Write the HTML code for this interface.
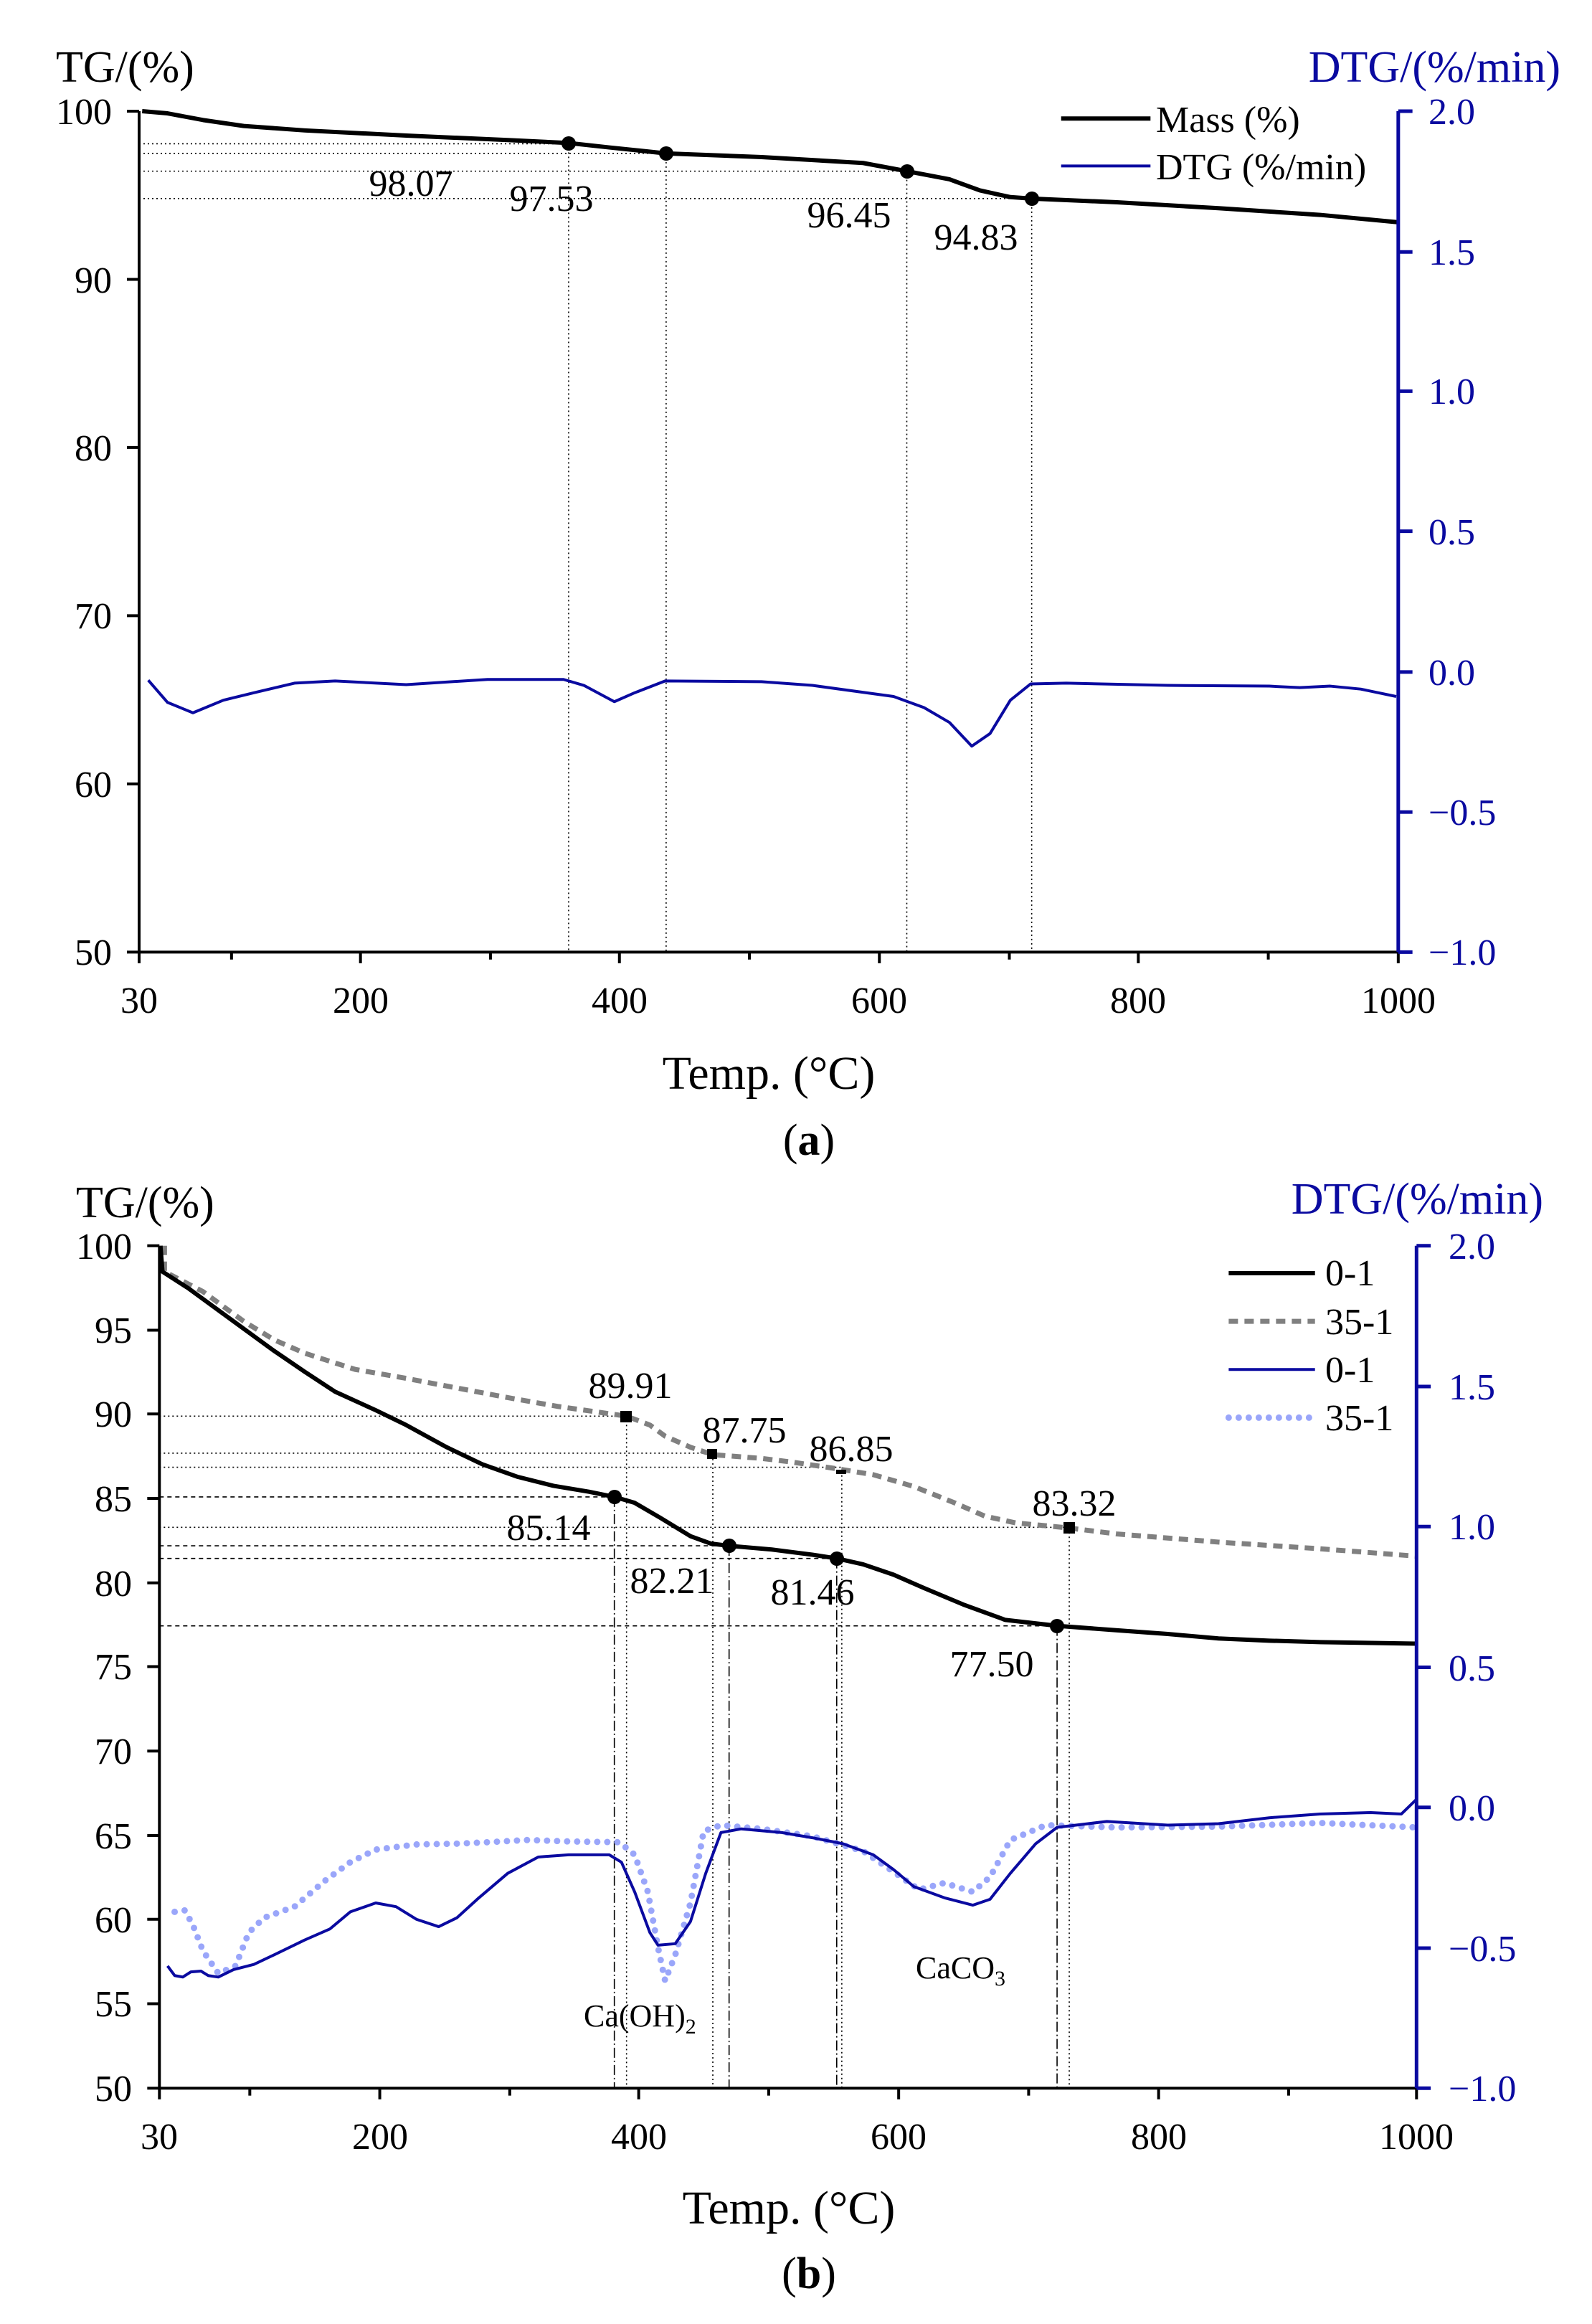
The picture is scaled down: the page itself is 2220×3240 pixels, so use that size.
<!DOCTYPE html>
<html><head><meta charset="utf-8"><style>
html,body{margin:0;padding:0;background:#fff}
svg{display:block}
text{font-family:"Liberation Serif",serif}
</style></head><body>
<svg width="2220" height="3240" viewBox="0 0 2220 3240" xmlns="http://www.w3.org/2000/svg">
<rect width="2220" height="3240" fill="#fff"/>

<!-- ========== Panel A ========== -->
<g transform="scale(1.416,1.033)" fill="none">
  <g stroke="#000" stroke-width="1.6" stroke-dasharray="2 4">
    <path d="M137 194H560M137 207H656M137 231H893M137 268H1016" vector-effect="non-scaling-stroke"/>
    <path d="M560 194V1285M656 207V1285M893 231V1285M1016 268V1285" vector-effect="non-scaling-stroke"/>
  </g>
  <polyline stroke="#0a0aa0" stroke-width="4" vector-effect="non-scaling-stroke" stroke-linejoin="round"
   points="146,918 165,948 190,962 220,945 250,935 290,922 330,919 400,924 480,917 555,917 575,925 605,947 625,935 655,919 750,920 800,925 880,940 910,955 935,975 957,1007 975,990 995,945 1015,923 1050,922 1150,925 1250,926 1280,928 1310,926 1340,930 1375,940"/>
  <polyline stroke="#000" stroke-width="6" vector-effect="non-scaling-stroke" stroke-linejoin="round"
   points="140,150 165,153 200,162 240,170 300,176 400,183 500,189 560,193 600,199 656,207 750,212 850,220 893,231 935,242 965,257 995,266 1016,268 1100,273 1200,281 1300,290 1377,300"/>
  <path d="M137 150V1285H1377" stroke="#000" stroke-width="4" vector-effect="non-scaling-stroke"/>
  <path d="M137 150H125M137 377H125M137 604H125M137 831H125M137 1058H125M137 1285H125" stroke="#000" stroke-width="4" vector-effect="non-scaling-stroke"/>
  <path d="M137 1285V1300M355 1285V1300M610 1285V1300M866 1285V1300M1121 1285V1300M1377 1285V1300M228 1285V1295M483 1285V1295M738 1285V1295M994 1285V1295M1249 1285V1295" stroke="#000" stroke-width="4" vector-effect="non-scaling-stroke"/>
  <path d="M1377 150V1285" stroke="#0a0aa0" stroke-width="5" vector-effect="non-scaling-stroke"/>
  <path d="M1377 150H1391M1377 340H1391M1377 528H1391M1377 717H1391M1377 907H1391M1377 1096H1391M1377 1285H1391" stroke="#0a0aa0" stroke-width="5" vector-effect="non-scaling-stroke"/>
  <path d="M1045 160H1133" stroke="#000" stroke-width="6" vector-effect="non-scaling-stroke"/>
  <path d="M1045 224H1133" stroke="#0a0aa0" stroke-width="4" vector-effect="non-scaling-stroke"/>
</g>
<g fill="#000">
  <ellipse cx="793" cy="200" rx="10" ry="10"/>
  <ellipse cx="929" cy="214" rx="10" ry="10"/>
  <ellipse cx="1265" cy="239" rx="10" ry="10"/>
  <ellipse cx="1439" cy="277" rx="10" ry="10"/>
</g>
<g font-size="52" text-anchor="end" fill="#000">
  <text x="156" y="173">100</text><text x="156" y="408">90</text><text x="156" y="642">80</text>
  <text x="156" y="876">70</text><text x="156" y="1111">60</text><text x="156" y="1345">50</text>
</g>
<g font-size="52" fill="#0a0aa0">
  <text x="1992" y="173">2.0</text><text x="1992" y="369">1.5</text><text x="1992" y="563">1.0</text>
  <text x="1992" y="759">0.5</text><text x="1992" y="955">0.0</text><text x="1992" y="1150">−0.5</text>
  <text x="1992" y="1345">−1.0</text>
</g>
<g font-size="52" text-anchor="middle" fill="#000">
  <text x="194" y="1412">30</text><text x="503" y="1412">200</text><text x="864" y="1412">400</text>
  <text x="1226" y="1412">600</text><text x="1587" y="1412">800</text><text x="1950" y="1412">1000</text>
  <text x="573" y="273">98.07</text><text x="769" y="294">97.53</text>
  <text x="1184" y="317">96.45</text><text x="1361" y="348">94.83</text>
</g>
<text x="78" y="114" font-size="62">TG/(%)</text>
<text x="2176" y="114" font-size="62" text-anchor="end" fill="#0a0aa0">DTG/(%/min)</text>
<text x="1612" y="184" font-size="52">Mass (%)</text>
<text x="1612" y="250" font-size="52">DTG (%/min)</text>
<text x="1072" y="1518" font-size="66" text-anchor="middle">Temp. (°C)</text>
<text x="1128" y="1610" font-size="62" text-anchor="middle">(<tspan font-weight="bold">a</tspan>)</text>

<!-- ========== Panel B ========== -->
<g transform="translate(0,1620) scale(1.416,1.033)" fill="none">
  <g stroke="#000" stroke-width="1.6">
    <path d="M157 343H617M157 393H702M157 412H829M157 493H1053" stroke-dasharray="2 4" vector-effect="non-scaling-stroke"/>
    <path d="M617 343V1250M702 395V1250M829 417V1250M1053 494V1250" stroke-dasharray="2 4" vector-effect="non-scaling-stroke"/>
    <path d="M157 452H605M157 518H718M157 535H824M157 626H1041" stroke-dasharray="6 5" vector-effect="non-scaling-stroke"/>
    <path d="M605 452V1250M718 518V1250M824 535V1250M1041 626V1250" stroke-dasharray="14 4 2 4" vector-effect="non-scaling-stroke"/>
  </g>
  <polyline stroke="#9aa6fa" stroke-width="9" stroke-dasharray="0 14" stroke-linecap="round" vector-effect="non-scaling-stroke" stroke-linejoin="round"
   points="172,1012 182,1010 190,1030 200,1065 215,1095 232,1085 245,1040 260,1020 290,1005 320,970 345,945 370,928 410,921 450,920 480,918 520,915 560,917 610,918 625,935 638,985 648,1060 655,1105 665,1070 680,1000 693,903 710,895 750,900 800,910 850,930 880,958 905,982 930,973 958,985 975,965 995,915 1030,895 1100,898 1200,897 1300,892 1395,898"/>
  <polyline stroke="#0a0aa0" stroke-width="4" vector-effect="non-scaling-stroke" stroke-linejoin="round"
   points="165,1085 172,1098 180,1100 188,1093 198,1092 205,1098 215,1100 230,1090 250,1083 270,1070 300,1050 325,1035 345,1012 370,1000 390,1005 410,1022 432,1032 450,1020 470,995 500,960 530,938 560,935 600,935 612,945 625,985 640,1040 648,1057 665,1055 680,1025 695,960 710,905 730,900 770,905 800,912 830,920 860,935 880,955 900,978 930,993 958,1003 975,995 995,960 1020,920 1041,898 1090,890 1150,895 1200,893 1250,885 1300,880 1350,878 1380,880 1395,860"/>
  <polyline stroke="#808080" stroke-width="7" stroke-dasharray="13 9" vector-effect="non-scaling-stroke" stroke-linejoin="round"
   points="162,113 162,148 200,175 240,215 270,240 300,258 350,280 400,292 450,305 500,318 550,330 617,343 640,355 655,370 680,385 702,395 750,400 780,405 829,415 860,422 900,438 940,460 970,478 1000,487 1053,494 1100,502 1200,513 1300,522 1395,532"/>
  <polyline stroke="#000" stroke-width="6" vector-effect="non-scaling-stroke" stroke-linejoin="round"
   points="158,113 160,148 185,170 210,195 240,225 270,255 300,283 330,310 370,335 400,355 440,385 475,408 510,425 545,437 580,445 605,452 625,460 650,480 680,505 700,515 718,518 760,523 800,530 824,535 850,543 880,557 910,575 950,598 990,618 1041,626 1100,632 1150,637 1200,643 1250,646 1300,648 1395,650"/>
  <path d="M157 113V1250H1395" stroke="#000" stroke-width="4" vector-effect="non-scaling-stroke"/>
  <path d="M157 113H145M157 227H145M157 340H145M157 454H145M157 568H145M157 681H145M157 795H145M157 909H145M157 1022H145M157 1136H145M157 1250H145" stroke="#000" stroke-width="4" vector-effect="non-scaling-stroke"/>
  <path d="M157 1250V1265M374 1250V1265M629 1250V1265M885 1250V1265M1141 1250V1265M1395 1250V1265M246 1250V1260M502 1250V1260M757 1250V1260M1013 1250V1260M1269 1250V1260" stroke="#000" stroke-width="4" vector-effect="non-scaling-stroke"/>
  <path d="M1395 113V1250" stroke="#0a0aa0" stroke-width="5" vector-effect="non-scaling-stroke"/>
  <path d="M1395 113H1409M1395 303H1409M1395 492H1409M1395 682H1409M1395 871H1409M1395 1061H1409M1395 1250H1409" stroke="#0a0aa0" stroke-width="5" vector-effect="non-scaling-stroke"/>
  <path d="M1210 150H1295" stroke="#000" stroke-width="6" vector-effect="non-scaling-stroke"/>
  <path d="M1210 215H1295" stroke="#808080" stroke-width="7" stroke-dasharray="13 9" vector-effect="non-scaling-stroke"/>
  <path d="M1210 280H1295" stroke="#0a0aa0" stroke-width="4" vector-effect="non-scaling-stroke"/>
  <path d="M1210 345H1295" stroke="#9aa6fa" stroke-width="9" stroke-dasharray="0 14" stroke-linecap="round" vector-effect="non-scaling-stroke"/>
</g>
<g fill="#000">
  <rect x="865" y="1967" width="16" height="16"/>
  <rect x="986" y="2020" width="14" height="14"/>
  <rect x="1166" y="2049" width="14" height="6"/>
  <rect x="1483" y="2122" width="16" height="16"/>
  <circle cx="857" cy="2087" r="10"/>
  <circle cx="1017" cy="2155" r="10"/>
  <circle cx="1167" cy="2173" r="10"/>
  <circle cx="1474" cy="2267" r="10"/>
</g>
<g font-size="52" text-anchor="end" fill="#000">
  <text x="184" y="1755">100</text><text x="184" y="1872">95</text><text x="184" y="1989">90</text>
  <text x="184" y="2107">85</text><text x="184" y="2225">80</text><text x="184" y="2341">75</text>
  <text x="184" y="2459">70</text><text x="184" y="2577">65</text><text x="184" y="2694">60</text>
  <text x="184" y="2811">55</text><text x="184" y="2929">50</text>
</g>
<g font-size="52" fill="#0a0aa0">
  <text x="2020" y="1755">2.0</text><text x="2020" y="1951">1.5</text><text x="2020" y="2146">1.0</text>
  <text x="2020" y="2343">0.5</text><text x="2020" y="2538">0.0</text><text x="2020" y="2734">−0.5</text>
  <text x="2020" y="2929">−1.0</text>
</g>
<g font-size="52" text-anchor="middle" fill="#000">
  <text x="222" y="2996">30</text><text x="530" y="2996">200</text><text x="891" y="2996">400</text>
  <text x="1253" y="2996">600</text><text x="1616" y="2996">800</text><text x="1975" y="2996">1000</text>
  <text x="879" y="1949">89.91</text><text x="1038" y="2011">87.75</text>
  <text x="1187" y="2037">86.85</text><text x="1498" y="2113">83.32</text>
  <text x="765" y="2147">85.14</text><text x="937" y="2221">82.21</text>
  <text x="1133" y="2237">81.46</text><text x="1383" y="2337">77.50</text>
</g>
<text x="814" y="2825" font-size="44">Ca(OH)<tspan font-size="30" dy="10">2</tspan></text>
<text x="1277" y="2758" font-size="44">CaCO<tspan font-size="30" dy="10">3</tspan></text>
<text x="106" y="1697" font-size="62">TG/(%)</text>
<text x="2152" y="1692" font-size="62" text-anchor="end" fill="#0a0aa0">DTG/(%/min)</text>
<g font-size="52" fill="#000">
  <text x="1848" y="1792">0-1</text><text x="1848" y="1860">35-1</text>
  <text x="1848" y="1927">0-1</text><text x="1848" y="1994">35-1</text>
</g>
<text x="1100" y="3100" font-size="66" text-anchor="middle">Temp. (°C)</text>
<text x="1128" y="3190" font-size="62" text-anchor="middle">(<tspan font-weight="bold">b</tspan>)</text>
</svg>
</body></html>
